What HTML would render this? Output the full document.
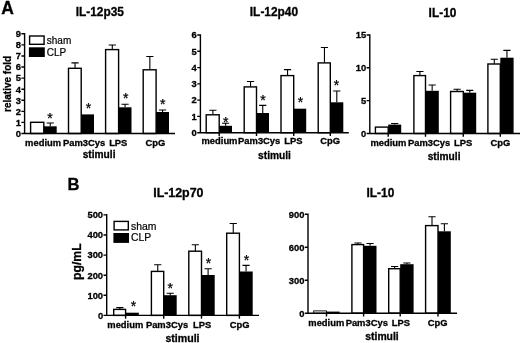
<!DOCTYPE html>
<html><head><meta charset="utf-8"><title>Figure</title>
<style>
html,body{margin:0;padding:0;background:#fff;}
body{width:520px;height:343px;overflow:hidden;}
svg{display:block;font-family:"Liberation Sans",Arial,sans-serif;fill:#000;}
.a{fill:none;stroke:#000;stroke-width:1.4;}
.e{fill:none;stroke:#000;stroke-width:1.1;}
.w{fill:#fff;stroke:#000;stroke-width:1.4;}
.b{fill:#000;stroke:none;}
.tk{font-size:9.4px;font-weight:bold;text-anchor:end;}
.xl{font-size:9.4px;font-weight:bold;text-anchor:middle;}
.xt{font-size:10.2px;font-weight:bold;text-anchor:middle;}
.ti{font-size:11.9px;font-weight:bold;text-anchor:middle;}
.st{font-size:14px;text-anchor:middle;stroke:#000;stroke-width:0.25px;}
.lg{font-size:10px;stroke:#000;stroke-width:0.2px;}
.pl{font-size:17.5px;font-weight:bold;}
.tk,.xl,.xt,.ti,.yl,.pl{stroke:#000;stroke-width:0.3px;}
.yl{font-weight:bold;text-anchor:middle;}
</style></head>
<body>
<svg width="520" height="343" viewBox="0 0 520 343">
<rect x="0" y="0" width="520" height="343" fill="#fff" stroke="none"/>
<g class="chart" id="A1">
<path class="e" d="M50.25 126.3V123M46.65 123H53.85"/>
<rect class="w" x="30.6" y="122.3" width="13.2" height="11.2"/>
<rect class="b" x="43.8" y="126.3" width="12.9" height="7.2"/>
<path class="e" d="M75.05 68.1V62.9M71.45 62.9H78.65"/>
<rect class="w" x="68.5" y="68.3" width="12.7" height="65.2"/>
<rect class="b" x="81.2" y="114.4" width="12.8" height="19.1"/>
<path class="e" d="M112.3 49.4V45M108.7 45H115.9"/>
<path class="e" d="M125.05 107.3V104.2M121.45 104.2H128.65"/>
<rect class="w" x="105.6" y="49.6" width="13" height="83.9"/>
<rect class="b" x="118.6" y="107.3" width="12.9" height="26.2"/>
<path class="e" d="M149.85 69.6V56.5M146.25 56.5H153.45"/>
<path class="e" d="M162.55 112V110M158.95 110H166.15"/>
<rect class="w" x="143.2" y="69.8" width="12.9" height="63.7"/>
<rect class="b" x="156.1" y="112" width="12.9" height="21.5"/>
<path class="a" d="M24.6 33.1V133.5H175M21.4 133.5H24.6M21.4 122.42H24.6M21.4 111.34H24.6M21.4 100.26H24.6M21.4 89.18H24.6M21.4 78.1H24.6M21.4 67.02H24.6M21.4 55.94H24.6M21.4 44.86H24.6M21.4 33.78H24.6"/>
<text class="tk" x="21" y="136.85">0</text>
<text class="tk" x="21" y="125.77">1</text>
<text class="tk" x="21" y="114.69">2</text>
<text class="tk" x="21" y="103.61">3</text>
<text class="tk" x="21" y="92.53">4</text>
<text class="tk" x="21" y="81.45">5</text>
<text class="tk" x="21" y="70.37">6</text>
<text class="tk" x="21" y="59.29">7</text>
<text class="tk" x="21" y="48.21">8</text>
<text class="tk" x="21" y="37.13">9</text>
<text class="st" x="50" y="123.3">*</text>
<text class="st" x="88.5" y="113.1">*</text>
<text class="st" x="125.8" y="103">*</text>
<text class="st" x="162.8" y="109.2">*</text>
<text class="xl" x="43.1" y="145.7">medium</text>
<text class="xl" x="84.05" y="145.7">Pam3Cys</text>
<text class="xl" x="118.25" y="145.7">LPS</text>
<text class="xl" x="155.3" y="145.7">CpG</text>
<text class="ti" x="99.75" y="16">IL-12p35</text>
<text class="xt" x="99.1" y="157.9">stimuli</text>
</g>
<g class="chart" id="A2">
<path class="e" d="M212.9 114.6V110.2M209.3 110.2H216.5"/>
<path class="e" d="M225.6 125.8V123.3M222 123.3H229.2"/>
<rect class="w" x="206.2" y="114.8" width="13" height="17.9"/>
<rect class="b" x="219.2" y="125.8" width="12.8" height="6.9"/>
<path class="a" d="M219.2 132.7V136"/>
<path class="e" d="M250.55 86.7V81.5M246.95 81.5H254.15"/>
<path class="e" d="M262.75 113V105.4M259.15 105.4H266.35"/>
<rect class="w" x="244.2" y="86.9" width="12.3" height="45.8"/>
<rect class="b" x="256.5" y="113" width="12.5" height="19.7"/>
<path class="a" d="M256.5 132.7V136"/>
<path class="e" d="M287.55 75.4V69.6M283.95 69.6H291.15"/>
<rect class="w" x="281" y="75.6" width="12.7" height="57.1"/>
<rect class="b" x="293.7" y="108.7" width="12.5" height="24"/>
<path class="a" d="M293.7 132.7V136"/>
<path class="e" d="M324.45 62.7V47.5M320.85 47.5H328.05"/>
<path class="e" d="M336.8 102.3V91M333.2 91H340.4"/>
<rect class="w" x="318.2" y="62.9" width="12.1" height="69.8"/>
<rect class="b" x="330.3" y="102.3" width="13" height="30.4"/>
<path class="a" d="M330.3 132.7V136"/>
<path class="a" d="M200.4 34.3V132.7H348.8M197.2 132.7H200.4M197.2 116.42H200.4M197.2 100.14H200.4M197.2 83.86H200.4M197.2 67.58H200.4M197.2 51.3H200.4M197.2 35.02H200.4"/>
<text class="tk" x="196.8" y="136.05">0</text>
<text class="tk" x="196.8" y="119.77">1</text>
<text class="tk" x="196.8" y="103.49">2</text>
<text class="tk" x="196.8" y="87.21">3</text>
<text class="tk" x="196.8" y="70.93">4</text>
<text class="tk" x="196.8" y="54.65">5</text>
<text class="tk" x="196.8" y="38.37">6</text>
<text class="st" x="225.8" y="127.4">*</text>
<text class="st" x="263" y="105.3">*</text>
<text class="st" x="300.5" y="107.3">*</text>
<text class="st" x="336.5" y="90">*</text>
<text class="xl" x="219.5" y="143.5">medium</text>
<text class="xl" x="259.2" y="143.5">Pam3Cys</text>
<text class="xl" x="293.35" y="143.5">LPS</text>
<text class="xl" x="330.2" y="143.5">CpG</text>
<text class="ti" x="273.95" y="16.2">IL-12p40</text>
<text class="xt" x="274.5" y="158.7">stimuli</text>
</g>
<g class="chart" id="A3">
<path class="e" d="M394.7 124.6V123.5M391.1 123.5H398.3"/>
<rect class="w" x="375.4" y="127.1" width="12.8" height="6.4"/>
<rect class="b" x="388.2" y="124.6" width="13" height="8.9"/>
<path class="a" d="M388.2 133.5V136.8"/>
<path class="e" d="M419.9 75.4V71.5M416.3 71.5H423.5"/>
<path class="e" d="M432.15 90.8V85M428.55 85H435.75"/>
<rect class="w" x="413.9" y="75.6" width="11.6" height="57.9"/>
<rect class="b" x="425.5" y="90.8" width="13.3" height="42.7"/>
<path class="a" d="M425.5 133.5V136.8"/>
<path class="e" d="M457.15 91.3V89.2M453.55 89.2H460.75"/>
<path class="e" d="M469.75 92.7V90.4M466.15 90.4H473.35"/>
<rect class="w" x="450.6" y="91.5" width="12.7" height="42"/>
<rect class="b" x="463.3" y="92.7" width="12.9" height="40.8"/>
<path class="a" d="M463.3 133.5V136.8"/>
<path class="e" d="M494.3 63.8V59.2M490.7 59.2H497.9"/>
<path class="e" d="M506.95 57.7V50.4M503.35 50.4H510.55"/>
<rect class="w" x="487.9" y="64" width="12.4" height="69.5"/>
<rect class="b" x="500.3" y="57.7" width="13.3" height="75.8"/>
<path class="a" d="M500.3 133.5V136.8"/>
<path class="a" d="M369.8 34.3V133.5H520M366.6 133.5H369.8M366.6 100.65H369.8M366.6 67.8H369.8M366.6 34.95H369.8"/>
<text class="tk" x="366.2" y="136.85">0</text>
<text class="tk" x="366.2" y="104">5</text>
<text class="tk" x="366.2" y="71.15">10</text>
<text class="tk" x="366.2" y="38.3">15</text>
<text class="xl" x="388.4" y="146">medium</text>
<text class="xl" x="429.05" y="146">Pam3Cys</text>
<text class="xl" x="463.05" y="146">LPS</text>
<text class="xl" x="500.3" y="146">CpG</text>
<text class="ti" x="442.5" y="16.5">IL-10</text>
<text class="xt" x="444.05" y="159.5">stimuli</text>
</g>
<g class="chart" id="B1">
<path class="e" d="M119.85 309.2V307.6M116.25 307.6H123.45"/>
<rect class="w" x="113.7" y="309.4" width="11.9" height="6"/>
<rect class="b" x="125.6" y="312.7" width="13.2" height="2.7"/>
<path class="a" d="M125.6 315.4V318.7"/>
<path class="e" d="M157.75 271.2V264.8M154.15 264.8H161.35"/>
<path class="e" d="M170.2 295.2V293.3M166.6 293.3H173.8"/>
<rect class="w" x="151.4" y="271.4" width="12.3" height="44"/>
<rect class="b" x="163.7" y="295.2" width="13" height="20.2"/>
<path class="a" d="M163.7 315.4V318.7"/>
<path class="e" d="M195.35 251V244.8M191.75 244.8H198.95"/>
<path class="e" d="M208.1 275V268.8M204.5 268.8H211.7"/>
<rect class="w" x="188.8" y="251.2" width="12.7" height="64.2"/>
<rect class="b" x="201.5" y="275" width="13.2" height="40.4"/>
<path class="a" d="M201.5 315.4V318.7"/>
<path class="e" d="M233.25 233V223.5M229.65 223.5H236.85"/>
<path class="e" d="M246.05 271.5V265.4M242.45 265.4H249.65"/>
<rect class="w" x="226.7" y="233.2" width="12.7" height="82.2"/>
<rect class="b" x="239.4" y="271.5" width="13.3" height="43.9"/>
<path class="a" d="M239.4 315.4V318.7"/>
<path class="a" d="M106.7 214.1V315.4H259M103.5 315.4H106.7M103.5 295.3H106.7M103.5 275.2H106.7M103.5 255.1H106.7M103.5 235H106.7M103.5 214.9H106.7"/>
<text class="tk" x="103.1" y="318.75">0</text>
<text class="tk" x="103.1" y="298.65">100</text>
<text class="tk" x="103.1" y="278.55">200</text>
<text class="tk" x="103.1" y="258.45">300</text>
<text class="tk" x="103.1" y="238.35">400</text>
<text class="tk" x="103.1" y="218.25">500</text>
<text class="st" x="133.4" y="311">*</text>
<text class="st" x="170.3" y="293">*</text>
<text class="st" x="208.6" y="268.2">*</text>
<text class="st" x="246.5" y="265">*</text>
<text class="xl" x="125.3" y="327.6">medium</text>
<text class="xl" x="167" y="327.6">Pam3Cys</text>
<text class="xl" x="202.1" y="327.6">LPS</text>
<text class="xl" x="239.6" y="327.6">CpG</text>
<text class="ti" x="178.35" y="197.3" style="font-size:12.4px">IL-12p70</text>
<text class="xt" x="182.5" y="342.2" style="font-size:10.6px">stimuli</text>
</g>
<g class="chart" id="B2">
<rect class="w" x="313.7" y="310.9" width="12.8" height="2.3" style="stroke-width:0.9"/>
<rect class="b" x="326.5" y="311.6" width="13.1" height="1.6"/>
<path class="a" d="M326.5 313.2V316.5"/>
<path class="e" d="M357.95 244.4V243M354.35 243H361.55"/>
<path class="e" d="M370.05 245.8V243.5M366.45 243.5H373.65"/>
<rect class="w" x="351.9" y="244.6" width="11.7" height="68.6"/>
<rect class="b" x="363.6" y="245.8" width="12.9" height="67.4"/>
<path class="a" d="M363.6 313.2V316.5"/>
<path class="e" d="M394.65 268.5V266.5M391.05 266.5H398.25"/>
<path class="e" d="M406.9 264.2V263M403.3 263H410.5"/>
<rect class="w" x="388.7" y="268.7" width="11.5" height="44.5"/>
<rect class="b" x="400.2" y="264.2" width="13.4" height="49"/>
<path class="a" d="M400.2 313.2V316.5"/>
<path class="e" d="M432 225.4V216.7M428.4 216.7H435.6"/>
<path class="e" d="M444.4 231.3V223.7M440.8 223.7H448"/>
<rect class="w" x="425.6" y="225.6" width="12.4" height="87.6"/>
<rect class="b" x="438" y="231.3" width="12.8" height="81.9"/>
<path class="a" d="M438 313.2V316.5"/>
<path class="a" d="M308 213.6V313.2H457M304.8 313.2H308M304.8 280.2H308M304.8 247.2H308M304.8 214.2H308"/>
<text class="tk" x="304.4" y="316.55">0</text>
<text class="tk" x="304.4" y="283.55">300</text>
<text class="tk" x="304.4" y="250.55">600</text>
<text class="tk" x="304.4" y="217.55">900</text>
<text class="xl" x="326.3" y="325.5">medium</text>
<text class="xl" x="366.75" y="325.5">Pam3Cys</text>
<text class="xl" x="400.95" y="325.5">LPS</text>
<text class="xl" x="437.65" y="325.5">CpG</text>
<text class="ti" x="380.4" y="197.3">IL-10</text>
<text class="xt" x="382" y="339.7" style="font-size:10.4px">stimuli</text>
</g>
<rect class="w" x="29.6" y="36" width="14.5" height="8.3"/>
<rect class="b" x="28.9" y="47.3" width="15.9" height="9.7"/>
<text class="lg" x="46.8" y="43.5" style="font-size:10px">sham</text>
<text class="lg" x="46.8" y="55.8" style="font-size:10px">CLP</text>
<rect class="w" x="114.1" y="221.4" width="14.2" height="8.5"/>
<rect class="b" x="113.4" y="233" width="15.6" height="9.9"/>
<text class="lg" x="131" y="229.6" style="font-size:10.4px">sham</text>
<text class="lg" x="131" y="241.2" style="font-size:10.4px">CLP</text>
<text class="pl" x="1.2" y="13.8">A</text>
<text class="pl" x="67.4" y="189.8" style="font-size:16.6px">B</text>
<text class="yl" transform="translate(10.6 83.9) rotate(-90)" style="font-size:10px">relative fold</text>
<text class="yl" transform="translate(81.2 261.7) rotate(-90)" style="font-size:12.2px">pg/mL</text>
</svg>
</body></html>
